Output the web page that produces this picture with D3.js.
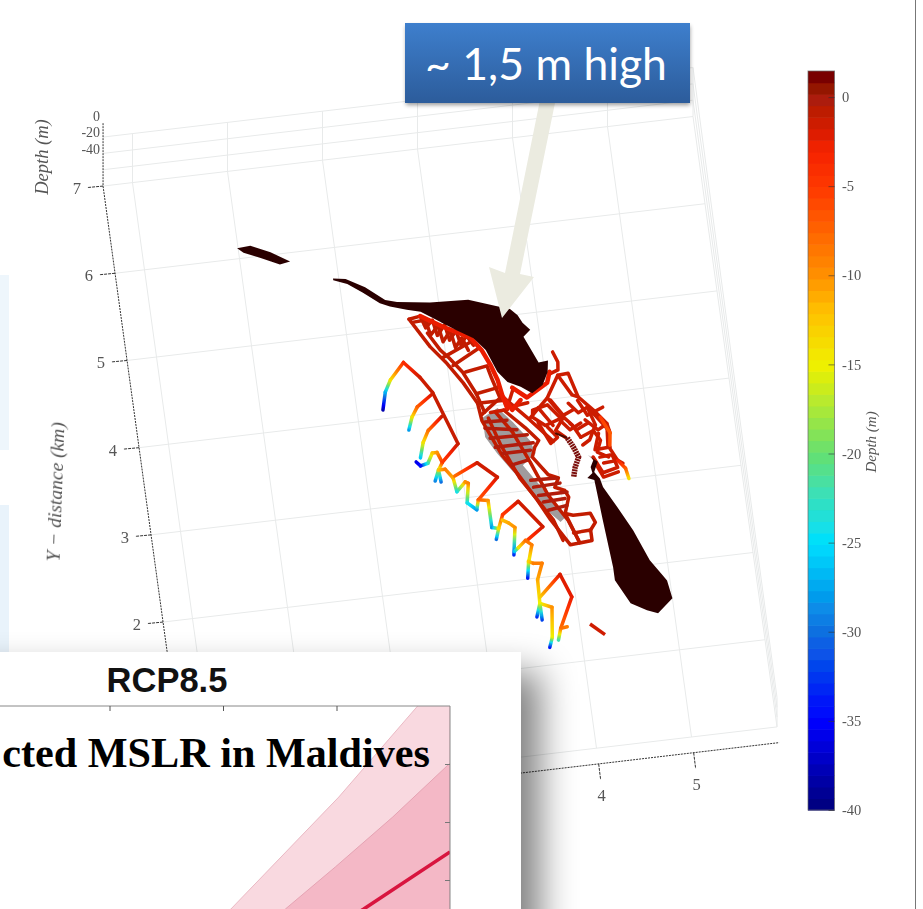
<!DOCTYPE html>
<html>
<head>
<meta charset="utf-8">
<script src="https://cdn.jsdelivr.net/npm/d3@7"></script>
<style>
html, body { margin: 0; padding: 0; background: #fff; overflow: hidden; }
svg { display: block; }
</style>
</head>
<body>
<script>
// axis ticks
const yTicks = [1, 2, 3, 4, 5, 6, 7];
const xTicks = [0, 1, 2, 3, 4, 5];
const wallDepths = [0, -20, -40];
const depthLabels = [0, -20, -40];
const cbarTicks = [0, -5, -10, -15, -20, -25, -30, -35, -40];

// colormap
const cmapDepths = [-40, -35, -30, -25, -22, -20, -15, -12, -10, -5, -3, 0, 1.5];
const cmapColors = ["#00007a", "#0000ff", "#0a6ee0", "#00e0ff", "#40e0b0", "#66e070", "#f0f000", "#ffc000", "#ff9000", "#ff3800", "#f52000", "#a81a08", "#6a0000"];

// islands, [x km, y km]
const sliver = [[0.99,6.12],[1.13,6.13],[1.33,6.03],[1.52,5.90],[1.41,5.88],[1.22,5.98],[1.05,6.06]];
const mainIsland = [[1.94,5.65],[2.07,5.63],[2.26,5.51],[2.45,5.34],[2.57,5.30],[2.91,5.25],[3.31,5.23],[3.60,5.12],[3.73,5.07],[3.80,4.99],[3.84,4.90],[3.91,4.81],[3.83,4.74],[3.95,4.43],[4.05,4.44],[4.03,4.31],[3.96,4.17],[3.84,4.09],[3.73,4.18],[3.60,4.25],[3.51,4.38],[3.42,4.64],[3.31,4.79],[3.15,4.90],[2.96,5.04],[2.80,5.16],[2.66,5.20],[2.49,5.26],[2.39,5.31],[2.23,5.45],[2.08,5.57],[1.94,5.63]];
const southIsland = [[4.33,3.32],[4.38,3.26],[4.34,3.18],[4.35,3.11],[4.29,3.06],[4.36,3.03],[4.37,2.88],[4.39,2.57],[4.43,2.02],[4.43,1.87],[4.56,1.59],[4.72,1.49],[4.83,1.44],[5.00,1.59],[4.97,1.80],[4.82,2.05],[4.69,2.41],[4.56,2.69],[4.44,2.94],[4.42,3.04],[4.37,3.12],[4.42,3.23]];
const greyPatch = [[3.29,3.88],[3.46,3.97],[3.60,3.79],[3.75,3.56],[3.79,3.41],[3.64,3.29],[3.73,3.14],[3.90,2.86],[4.01,2.65],[3.95,2.60],[3.86,2.71],[3.68,3.00],[3.53,3.23],[3.39,3.46],[3.29,3.66]];
const darkStreak = [[4.14,3.54],[4.19,3.43],[4.23,3.31],[4.18,3.20],[4.15,3.09]];
const darkThread = [[4.02,3.61],[4.14,3.54]];
const smallDash = [[4.11,1.41],[4.25,1.27]];

// reef survey lines on the flat, one depth per group
const westBand = [
  [[2.67,5.09],[2.79,5.11],[2.83,4.97],[2.91,5.05],[2.94,4.87],[3.03,4.98],[3.06,4.80],[3.14,4.90],[3.17,4.73],[3.24,4.83],[3.30,4.71]],
  [[2.70,5.05],[2.84,5.06],[2.87,4.88],[2.96,4.98],[2.99,4.79],[3.08,4.91],[3.11,4.71],[3.19,4.81],[3.24,4.66]],
  [[2.67,5.09],[2.85,4.75],[3.00,4.54],[3.14,4.30],[3.26,4.05],[3.28,3.85],[3.44,3.43],[3.57,3.21],[3.74,2.88],[3.85,2.64],[4.02,2.33],[4.25,2.35],[4.25,2.47],[4.07,2.46]],
  [[2.96,4.61],[3.27,4.75]],
  [[3.06,4.51],[3.35,4.67]],
  [[3.18,4.42],[3.41,4.46],[3.44,4.32],[3.50,4.08],[3.29,3.92]],
  [[2.84,4.91],[2.95,4.70],[3.03,4.60],[3.15,4.42],[3.26,4.16],[3.32,3.94]],
  [[3.26,4.16],[3.49,4.20]],
  [[3.26,4.05],[3.52,4.05]],
  [[3.52,3.94],[3.72,3.71],[3.84,3.55],[3.79,3.48],[3.75,3.37],[3.89,3.15],[3.99,3.10],[3.94,3.00],[4.04,2.95],[4.07,2.87],[4.01,2.69],[4.12,2.34]],
  [[3.43,3.93],[3.58,3.68],[3.72,3.32],[3.86,2.92],[4.03,2.61],[4.11,2.37]],
  [[3.35,3.87],[3.44,3.55],[3.59,3.15],[3.72,2.92],[3.88,2.63],[3.95,2.39]],
  [[4.01,2.69],[4.09,2.66],[4.27,2.66],[4.31,2.55],[4.25,2.47]]
];
const rungs = [
  [[3.31,3.83],[3.54,3.82]],[[3.30,3.76],[3.63,3.70]],[[3.34,3.64],[3.73,3.63]],[[3.38,3.53],[3.78,3.53]],
  [[3.45,3.45],[3.74,3.45]],[[3.53,3.31],[3.69,3.34]],[[3.70,3.11],[3.98,3.10]],[[3.72,3.03],[4.00,3.04]],
  [[3.76,2.93],[4.06,2.93]],[[3.80,2.85],[4.03,2.86]],[[3.84,2.75],[4.04,2.78]]
];
const eastBand = [
  [[3.82,3.90],[3.98,3.94],[4.10,3.77],[3.93,3.71],[3.81,3.82],[3.82,3.90]],
  [[3.79,3.82],[3.99,4.02],[4.13,4.26],[4.24,4.27],[4.31,3.99],[4.45,3.82],[4.57,3.65],[4.55,3.40],[4.63,3.22]],
  [[3.99,4.02],[4.13,3.78],[4.21,3.68],[4.28,3.53]],
  [[4.13,4.26],[4.25,4.02],[4.31,3.99]],
  [[4.11,4.53],[4.15,4.41],[4.14,4.32],[4.06,4.29]],
  [[4.20,3.93],[4.29,3.81],[4.39,3.86],[4.51,3.70],[4.58,3.57]],
  [[4.37,3.68],[4.25,3.62],[4.19,3.70]],
  [[4.28,3.53],[4.42,3.59],[4.48,3.47],[4.43,3.34],[4.54,3.27]],
  [[4.38,3.29],[4.46,3.10],[4.62,3.14],[4.58,3.29]],
  [[4.39,3.86],[4.45,3.65],[4.37,3.49],[4.29,3.44]],
  [[3.65,4.17],[3.56,3.96],[3.78,3.99]],
  [[3.88,3.92],[4.01,3.70]],
  [[4.13,3.78],[4.03,3.64],[4.12,3.55]],
  [[3.53,4.09],[3.78,3.79],[3.99,3.52]],
  [[4.02,3.99],[4.13,3.80],[4.24,3.85]],
  [[4.30,3.95],[4.38,3.77],[4.55,3.84]],
  [[4.09,3.75],[4.18,3.63],[4.30,3.69]],
  [[4.35,3.72],[4.47,3.59],[4.57,3.65],[4.59,3.54]],
  [[4.44,3.79],[4.58,3.57]],
  [[4.47,3.55],[4.41,3.37],[4.57,3.38]],
  [[4.48,3.21],[4.63,3.22],[4.68,3.18]],
  [[4.45,3.28],[4.56,3.29]],
  [[4.39,3.23],[4.46,3.05],[4.62,3.09]],
  [[3.95,3.69],[4.04,3.56],[3.96,3.50],[3.86,3.75]],
  [[3.55,4.02],[3.56,3.94],[3.38,3.93]]
];
const islandRim = [
  [[2.79,5.11],[3.01,4.96],[3.28,4.80],[3.38,4.64],[3.45,4.46],[3.50,4.29],[3.53,4.09],[3.56,3.96]],
  [[3.64,4.18],[3.78,4.05],[4.01,4.19],[4.05,4.31]],
  [[3.53,4.09],[3.61,3.93],[3.71,4.03]]
];

// transects running down the reef slope, [x km, y km, depth m]
const transects = [
  [[2.27,4.10,-38],[2.32,4.30,-27],[2.39,4.43,-14],[2.55,4.61,-4],[2.70,4.42,-1.5],[2.81,4.23,-1.2],[3.00,3.62,-1.2]],
  [[2.81,4.22,-1.2],[2.63,4.09,-7],[2.56,3.98,-14],[2.51,3.84,-28]],
  [[2.87,3.95,-1.2],[2.71,3.81,-8],[2.64,3.68,-14],[2.59,3.51,-26]],
  [[3.00,3.62,-1.2],[2.81,3.43,-5],[2.77,3.55,-10],[2.72,3.55,-12],[2.66,3.44,-22],[2.58,3.42,-34],[2.54,3.47,-36]],
  [[2.81,3.43,-5],[2.76,3.35,-17],[2.71,3.23,-29]],
  [[2.76,3.35,-17],[2.77,3.21,-30]],
  [[2.76,3.35,-12],[2.83,3.35,-9],[2.90,3.24,-11],[2.92,3.08,-24],[3.02,3.18,-10],[3.05,3.16,-9],[3.01,2.94,-24],[3.10,2.85,-28]],
  [[2.92,3.26,-8],[3.17,3.38,-1.5],[3.36,3.19,-1.5],[3.13,2.96,-7],[3.23,2.94,-10],[3.23,2.63,-28],[3.30,2.61,-14],[3.26,2.49,-30]],
  [[3.13,2.96,-7],[3.10,2.85,-28]],
  [[3.30,2.61,-14],[3.36,2.76,-5],[3.54,2.89,-1.5],[3.76,2.57,-1.5],[3.58,2.44,-5]],
  [[3.35,2.70,-12],[3.41,2.66,-11],[3.47,2.60,-10],[3.42,2.29,-33]],
  [[3.43,2.33,-26],[3.48,2.37,-14],[3.56,2.44,-8],[3.62,2.38,-9],[3.56,2.18,-16],[3.53,2.01,-34]],
  [[3.56,2.20,-13],[3.61,2.17,-9],[3.70,2.16,-9],[3.63,1.98,-11],[3.62,1.71,-15],[3.57,1.56,-33]],
  [[3.63,1.78,-13],[3.87,2.01,-2],[3.96,1.74,-2.5],[3.80,1.40,-8],[3.87,1.41,-9]],
  [[3.62,1.71,-15],[3.74,1.65,-10],[3.70,1.31,-15],[3.66,1.20,-34]],
  [[3.62,1.71,-15],[3.62,1.52,-32]],
  [[3.80,1.40,-8],[3.76,1.27,-22]],
  [[4.63,3.22,-3],[4.70,3.12,-7],[4.72,3.00,-14]],
  [[4.51,3.73,-5],[4.59,3.54,-7],[4.57,3.40,-6]]
];

// inset, sea level rise against year
const insetTicks = [2040, 2060, 2080];
const insetYTicks = [0.6, 0.8, 1.0];
const outerUpperYears = [2055, 2061.4, 2080.4, 2094.3, 2100];
const outerUpper = [0.40, 0.50, 0.886, 1.20, 1.33];
const innerUpperYears = [2065, 2071, 2079.8, 2089.9, 2100];
const innerUpper = [0.41, 0.50, 0.645, 0.817, 1.003];
const medianYears = [2075, 2084.8, 2100];
const median = [0.38, 0.50, 0.697];
const bandFloorYears = [2050, 2100];
const bandFloor = [0.2, 0.3];

const W = 923, H = 909;
const svg = d3.select("body").append("svg").attr("width", W).attr("height", H);
const defs = svg.append("defs");

defs.append("filter").attr("id", "soft").append("feGaussianBlur").attr("stdDeviation", 0.45);
let shadowBlur = defs.append("filter").attr("id", "panelShadow")
  .attr("x", "-25%").attr("y", "-40%").attr("width", "150%").attr("height", "180%");
shadowBlur.append("feGaussianBlur").attr("stdDeviation", 18);
let boxBlur = defs.append("filter").attr("id", "boxShadow")
  .attr("x", "-5%").attr("y", "-10%").attr("width", "110%").attr("height", "125%");
boxBlur.append("feGaussianBlur").attr("stdDeviation", 2);

let boxFill = defs.append("linearGradient").attr("id", "boxFill").attr("x1", 0).attr("x2", 0).attr("y1", 0).attr("y2", 1);
boxFill.append("stop").attr("offset", 0).attr("stop-color", "#3e7fcd");
boxFill.append("stop").attr("offset", 1).attr("stop-color", "#2c5c9b");

// oblique view of the km plane, built from plain linear scales
const xToPx = d3.scaleLinear().domain([0, 6]).range([216.5, 786.5]);
const yToPx = d3.scaleLinear().domain([0, 7]).range([0, -84]);
const xToPy = d3.scaleLinear().domain([0, 6]).range([793, 725.8]);
const yToPy = d3.scaleLinear().domain([0, 7]).range([0, -610.4]);
const zRise = d3.scaleLinear().domain([-60, 0]).range([0, -49]);
const zPerspective = d3.scaleLinear().domain([0, 7]).range([0.6, 1]);

function project(x, y, z) {
  let rise = z === undefined ? 0 : zRise(z) * zPerspective(y);
  return [xToPx(x) + yToPx(y), xToPy(x) + yToPy(y) + rise];
}

const depthColor = d3.scaleLinear().domain(cmapDepths).range(cmapColors);
const planeLine = d3.line().x(d => project(d[0], d[1])[0]).y(d => project(d[0], d[1])[1]);

// pale slide background behind the plot
let backdrop = svg.append("g");
backdrop.append("rect").attr("x", 0).attr("y", 275).attr("width", 9).attr("height", 175).attr("fill", "#eef6fc");
backdrop.append("rect").attr("x", 0).attr("y", 505).attr("width", 9).attr("height", 150).attr("fill", "#e9f3fb");

let chart = svg.append("g").attr("filter", "url(#soft)");

// grid and box
const xMin = -0.31, xMax = 5.9, yMax = 7, axisY = -0.18, axisTopZ = 17;
let grid = chart.append("g").attr("fill", "none").attr("stroke", "#e8eaea").attr("stroke-width", 1);
function gridPath(pts) {
  grid.append("path").attr("d", d3.line()(pts));
}
xTicks.forEach(function(k) {
  gridPath([project(k, 0), project(k, yMax), project(k, yMax, 0)]);
});
yTicks.forEach(function(k) {
  gridPath([project(xMin, k), project(xMax, k)]);
});
gridPath([project(xMin, 0), project(xMax, 0)]);
wallDepths.forEach(function(z) {
  gridPath([project(xMin, yMax, z), project(xMax, yMax, z)]);
  gridPath([project(xMax, yMax, z), project(xMax, 0, z)]);
});
gridPath([project(xMax, yMax), project(xMax, 0)]);
gridPath([project(xMax, 0), project(xMax, 0, 0)]);
gridPath([project(xMax, yMax), project(xMax, yMax, 0)]);

// axes
let axes = chart.append("g");
const axisStroke = "#333";
axes.append("path")
  .attr("d", d3.line()([project(xMin, yMax, axisTopZ), project(xMin, yMax), project(xMin, axisY)]))
  .attr("fill", "none").attr("stroke", axisStroke).attr("stroke-dasharray", "2 1");
axes.append("path")
  .attr("d", d3.line()([project(xMin, axisY), project(xMax, axisY)]))
  .attr("fill", "none").attr("stroke", axisStroke).attr("stroke-dasharray", "2 1");

const labelFont = "'Liberation Serif', serif";
yTicks.forEach(function(k) {
  let p = project(xMin, k);
  axes.append("line").attr("x1", p[0]).attr("y1", p[1]).attr("x2", p[0] - 16).attr("y2", p[1] + 1.5)
    .attr("stroke", axisStroke).attr("stroke-dasharray", "3 1");
  axes.append("text").text(k).attr("x", p[0] - 22).attr("y", p[1] + 8)
    .attr("text-anchor", "end").attr("font-family", labelFont).attr("font-size", 16.5).attr("fill", "#555");
});
xTicks.forEach(function(k) {
  let p = project(k, axisY);
  axes.append("line").attr("x1", p[0]).attr("y1", p[1]).attr("x2", p[0] + 2).attr("y2", p[1] + 16)
    .attr("stroke", axisStroke).attr("stroke-dasharray", "3 1");
  axes.append("text").text(k).attr("x", p[0] + 3).attr("y", p[1] + 37)
    .attr("text-anchor", "middle").attr("font-family", labelFont).attr("font-size", 16.5).attr("fill", "#555");
});
depthLabels.forEach(function(d) {
  let p = project(xMin, yMax, d);
  axes.append("text").text(d).attr("x", p[0] - 3).attr("y", p[1] - 16)
    .attr("text-anchor", "end").attr("font-family", labelFont).attr("font-size", 14).attr("fill", "#555");
});
axes.append("text").attr("transform", "translate(48,157) rotate(-90)")
  .attr("text-anchor", "middle").attr("font-family", labelFont).attr("font-style", "italic")
  .attr("font-size", 18.5).attr("fill", "#555").text("Depth (m)");
axes.append("text").attr("transform", "translate(62,492) rotate(-88)")
  .attr("text-anchor", "middle").attr("font-family", labelFont).attr("font-style", "italic")
  .attr("font-size", 19.5).attr("fill", "#555").text("Y \u2212 distance (km)");

// marks
let marks = chart.append("g");
marks.append("path").attr("d", planeLine(greyPatch) + "Z").attr("fill", "#a09b9c");

function drawLines(lines, depth, width) {
  marks.append("g").selectAll("path").data(lines).enter().append("path")
    .attr("d", d => planeLine(d))
    .attr("fill", "none")
    .attr("stroke", depthColor(depth))
    .attr("stroke-width", width)
    .attr("stroke-linejoin", "round")
    .attr("stroke-linecap", "round");
}
drawLines(westBand, -1, 3.5);
drawLines(rungs, -0.4, 3.5);
drawLines(eastBand, -1.4, 3.5);
drawLines(islandRim, -2.6, 4.5);

// each transect segment gets a gradient between its two end depths
transects.forEach(function(t, ti) {
  d3.pairs(t).forEach(function(pair, si) {
    let a = project(pair[0][0], pair[0][1]);
    let b = project(pair[1][0], pair[1][1]);
    let id = "seg" + ti + "_" + si;
    let g = defs.append("linearGradient").attr("id", id).attr("gradientUnits", "userSpaceOnUse")
      .attr("x1", a[0]).attr("y1", a[1]).attr("x2", b[0] + 0.01).attr("y2", b[1] + 0.01);
    [0, 0.25, 0.5, 0.75, 1].forEach(function(o) {
      g.append("stop").attr("offset", o)
        .attr("stop-color", depthColor(pair[0][2] + (pair[1][2] - pair[0][2]) * o));
    });
    marks.append("line").attr("x1", a[0]).attr("y1", a[1]).attr("x2", b[0]).attr("y2", b[1])
      .attr("stroke", "url(#" + id + ")").attr("stroke-width", 3.5).attr("stroke-linecap", "round");
  });
});

marks.append("path").attr("d", planeLine(smallDash)).attr("fill", "none")
  .attr("stroke", depthColor(-1.5)).attr("stroke-width", 3.5);
marks.append("path").attr("d", planeLine(darkThread)).attr("fill", "none")
  .attr("stroke", "#4a0a06").attr("stroke-width", 2);
marks.append("path").attr("d", planeLine(darkStreak)).attr("fill", "none")
  .attr("stroke", "#7a0f08").attr("stroke-width", 5.5).attr("stroke-dasharray", "2 0.7")
  .attr("stroke-linejoin", "round");

const landColor = "#2b0505";
[sliver, mainIsland, southIsland].forEach(function(poly) {
  marks.append("path").attr("d", planeLine(poly) + "Z").attr("fill", landColor);
});

// colorbar
const cbarScale = d3.scaleLinear().domain([-40, 1.46]).range([810, 71]);
let cbar = chart.append("g");
const cbarSteps = 64;
d3.range(cbarSteps).forEach(function(i) {
  let lo = -40 + (41.46 * i) / cbarSteps;
  let hi = -40 + (41.46 * (i + 1)) / cbarSteps;
  cbar.append("rect").attr("x", 808).attr("width", 26.5)
    .attr("y", cbarScale(hi)).attr("height", cbarScale(lo) - cbarScale(hi) + 0.6)
    .attr("fill", depthColor((lo + hi) / 2));
});
cbar.append("rect").attr("x", 808).attr("y", 71).attr("width", 26.5).attr("height", 739)
  .attr("fill", "none").attr("stroke", "#666").attr("stroke-opacity", 0.7);
let cbarAxis = cbar.append("g").attr("transform", "translate(834.5,0)")
  .call(d3.axisRight(cbarScale).tickValues(cbarTicks).tickSizeInner(-6).tickSizeOuter(0).tickPadding(7.5).tickFormat(d => d));
cbarAxis.select(".domain").remove();
cbarAxis.selectAll("line").attr("stroke", "#333").attr("stroke-opacity", 0.6);
cbarAxis.selectAll("text").attr("font-family", labelFont).attr("font-size", 14.5).attr("fill", "#555");
cbar.append("text").attr("transform", "translate(876,442) rotate(-90)")
  .attr("text-anchor", "middle").attr("font-family", labelFont).attr("font-style", "italic")
  .attr("font-size", 15).attr("fill", "#555").text("Depth (m)");

// slide frame on the right
svg.append("line").attr("x1", 915.5).attr("x2", 915.5).attr("y1", 0).attr("y2", H)
  .attr("stroke", "#777").attr("stroke-width", 1);

// callout arrow and box
svg.append("path")
  .attr("d", d3.line()([[540, 100], [555, 103], [520, 274], [534, 277], [502, 318], [489, 267], [505, 273]]) + "Z")
  .attr("fill", "#ebebe0");
svg.append("rect").attr("x", 406).attr("y", 26).attr("width", 284).attr("height", 79)
  .attr("fill", "#000").attr("opacity", 0.4).attr("filter", "url(#boxShadow)");
svg.append("rect").attr("x", 405).attr("y", 23).attr("width", 285).attr("height", 80).attr("fill", "url(#boxFill)");
svg.append("text").text("~ 1,5 m high").attr("x", 546).attr("y", 80)
  .attr("text-anchor", "middle").attr("font-family", "Lato, 'Open Sans', sans-serif")
  .attr("font-size", 44.5).attr("fill", "#fff");

// inset panel
let inset = svg.append("g");
inset.append("rect").attr("x", -60).attr("y", 672).attr("width", 600).attr("height", 306)
  .attr("fill", "#000").attr("opacity", 0.5).attr("filter", "url(#panelShadow)");
inset.append("rect").attr("x", 0).attr("y", 652).attr("width", 521).attr("height", 257).attr("fill", "#fff");

inset.append("text").text("RCP8.5").attr("x", 167).attr("y", 692)
  .attr("text-anchor", "middle").attr("font-family", "'Liberation Sans', sans-serif")
  .attr("font-weight", "bold").attr("font-size", 34.5).attr("fill", "#111");

const yearScale = d3.scaleLinear().domain([2040, 2100]).range([109.5, 450]);
const slrScale = d3.scaleLinear().domain([0.6, 1.0]).range([880, 764]);

defs.append("clipPath").attr("id", "insetClip").append("rect")
  .attr("x", -50).attr("y", 706).attr("width", 500).attr("height", 260);

let plot = inset.append("g").attr("clip-path", "url(#insetClip)");
function bandPath(upYears, up, loYears, lo) {
  let top = upYears.map((y, i) => [yearScale(y), slrScale(up[i])]);
  let bottom = loYears.map((y, i) => [yearScale(y), slrScale(lo[i])]).reverse();
  return d3.line()(top.concat(bottom)) + "Z";
}
plot.append("path").attr("d", bandPath(outerUpperYears, outerUpper, bandFloorYears, bandFloor))
  .attr("fill", "#f9d9e0").attr("stroke", "#eab9c4");
plot.append("path").attr("d", bandPath(innerUpperYears, innerUpper, bandFloorYears, bandFloor))
  .attr("fill", "#f4b8c6").attr("stroke", "#e5a3b3");
plot.append("path")
  .attr("d", d3.line()(medianYears.map((y, i) => [yearScale(y), slrScale(median[i])])))
  .attr("fill", "none").attr("stroke", "#d8153f").attr("stroke-width", 3.5);

let topAxis = inset.append("g").attr("transform", "translate(0,706)")
  .call(d3.axisTop(yearScale).tickValues(insetTicks).tickSizeInner(-5).tickSizeOuter(0).tickFormat(""));
topAxis.selectAll("line").attr("stroke", "#555");
topAxis.select(".domain").attr("stroke", "#888").attr("d", "M0,0H450");
let rightAxis = inset.append("g").attr("transform", "translate(450,0)")
  .call(d3.axisRight(slrScale).tickValues(insetYTicks).tickSizeInner(-5).tickSizeOuter(0).tickFormat(""));
rightAxis.selectAll("line").attr("stroke", "#777");
rightAxis.select(".domain").attr("stroke", "#888").attr("d", "M0,706V909");

inset.append("text").text("cted MSLR in Maldives").attr("x", 430).attr("y", 767)
  .attr("text-anchor", "end").attr("font-family", "'Liberation Serif', serif")
  .attr("font-weight", "bold").attr("font-size", 42.2).attr("fill", "#000");
</script>
</body>
</html>
